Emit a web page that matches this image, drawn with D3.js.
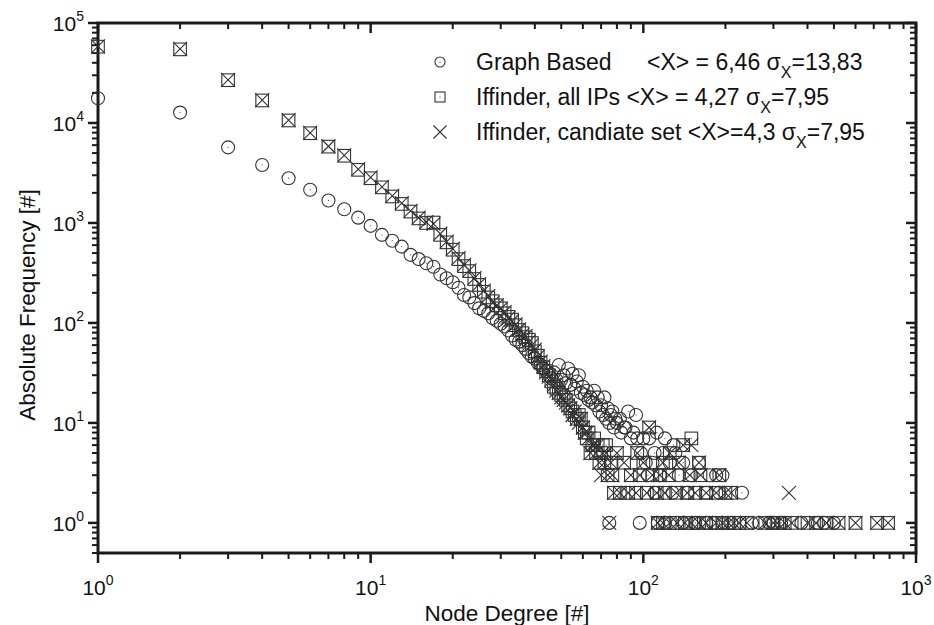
<!DOCTYPE html>
<html>
<head>
<meta charset="utf-8">
<script src="https://cdn.jsdelivr.net/npm/d3@7"></script>
<style>
  html, body { margin: 0; padding: 0; background: #fff; }
  svg { display: block; font-family: "Liberation Sans", Arial, sans-serif; }
</style>
</head>
<body>
<svg id="chart" width="934" height="625"></svg>
<script>
// ---------------- DATA ----------------
const xTickValues = [1, 10, 100, 1000];
const yTickValues = [1, 10, 100, 1000, 10000, 100000];
const xTitle = "Node Degree [#]";
const yTitle = "Absolute Frequency [#]";

// Graph Based (circles)
const graphDeg = [1,2,3,4,5,6,7,8,9,10,11,12,13,14,15,16,17,18,19,20,
  21,22,23,24,25,26,27,28,29,30,31,32,33,34,35,36,37,38,39,40,
  41,42,43,44,45,46,47,48,49,50,51,52,53,54,55,56,57,58,59,60,
  61,62,63,64,65,66,67,68,69,70,71,72,73,74,75,76,77,78,79,80,
  82,83,85,86,88,90,92,94,95,
  100,105,112,120,129,98,110,118,131,102,108,125,140,160,
  104,115,135,150,175,185,195,110,128,145,170,190,230,
  75,97,113,120,140,155,170,180,195,210,250,266,290,300,320,380,437,460,500];
const graphFreq = [17700,12700,5700,3800,2800,2150,1680,1370,1130,935,760,665,580,480,435,395,365,305,280,255,
  225,190,180,158,140,132,125,112,105,98,92,84,75,68,65,60,55,50,46,44,
  40,38,35,33,30,28,32,27,38,27,30,25,35,24,31,22,26,30,20,23,
  19,21,17,18,16,21,15,18,13,15,12,18,11,14,10,12,13,9,11,10,
  11,8,9,9,13,7,8,12,7,
  7,7,8,7,6,5,5,5,5,4,4,4,4,4,
  3,3,3,3,3,3,3,2,2,2,2,2,2,
  1,1,1,1,1,1,1,1,1,1,1,1,1,1,1,1,1,1,1];

// Iffinder, all IPs (squares)
const allDeg = [1,2,3,4,5,6,7,8,9,10,11,12,13,14,15,16,17,18,19,20,
  21,22,23,24,25,26,27,28,29,30,31,32,33,34,35,36,37,38,39,40,
  41,42,43,44,45,46,47,48,49,50,51,52,53,54,55,56,57,58,59,60,
  61,62,63,64,65,66,67,68,69,70,71,72,73,74,76,77,
  105,150,140,80,95,125,85,100,118,135,160,
  90,97,108,115,124,148,162,190,
  78,82,88,94,103,112,120,132,145,155,170,185,200,210,
  113,118,125,133,142,150,160,170,185,195,205,215,225,240,280,300,310,330,350,400,430,470,520,600,720,790];
const allFreq = [58000,54500,26800,16800,10600,7900,5800,4700,3400,2800,2270,1840,1550,1300,1110,1000,1010,760,640,540,
  435,370,330,275,240,205,180,165,150,140,125,115,108,95,85,79,72,68,63,52,
  47,40,36,33,30,26,23,22,20,19,18,17,15,14,13,12,11,12,11,9,
  8,7,8,5,6,7,5,6,4,5,6,4,6,3,4,3,
  9,7,6,5,5,5,4,4,4,4,4,
  3,3,3,3,3,3,3,3,
  2,2,2,2,2,2,2,2,2,2,2,2,2,2,
  1,1,1,1,1,1,1,1,1,1,1,1,1,1,1,1,1,1,1,1,1,1,1,1,1,1];

// Iffinder, candidate set (crosses)
const candDeg = [1,2,3,4,5,6,7,8,9,10,11,12,13,14,15,16,17,18,19,20,
  21,22,23,24,25,26,27,28,29,30,31,32,33,34,35,36,37,38,39,40,
  41,42,43,44,45,46,47,48,49,50,51,52,53,54,55,56,57,58,59,60,
  61,62,63,64,65,66,67,68,69,70,71,72,73,74,75,76,77,
  105,150,140,80,95,125,85,100,118,135,160,
  90,97,108,115,124,148,162,190,
  78,82,88,94,103,112,120,132,145,155,170,185,200,210,342,
  113,118,125,133,142,150,160,170,185,195,205,215,225,240,280,300,310,330,350,400,430,470,520,600,720,790];
const candFreq = [58500,55000,27000,16900,10700,7950,5850,4750,3450,2850,2300,1870,1580,1320,1130,1020,980,780,650,550,
  445,380,335,280,245,210,185,160,150,138,128,112,104,97,86,76,74,65,60,54,
  46,41,37,32,29,27,24,21,20,18,17,16,15,14,12,13,11,10,11,9,
  8,8,7,5,6,6,5,6,4,3,5,4,5,3,1,4,3,
  9,6,6,5,5,5,4,4,4,4,4,
  3,3,3,3,3,3,3,3,
  2,2,2,2,2,2,2,2,2,2,2,2,2,2,2,
  1,1,1,1,1,1,1,1,1,1,1,1,1,1,1,1,1,1,1,1,1,1,1,1,1,1];

const legendNames = ["Graph Based", "Iffinder, all IPs <X> = 4,27 ", "Iffinder, candiate set <X>=4,3 "];
const legendMeanGraph = "<X> = 6,46 ";
const legendSd = ["=13,83", "=7,95", "=7,95"];

// ---------------- LAYOUT ----------------
const W = 934, H = 625;
const m = {left: 98, right: 18, top: 23, bottom: 72};
const svg = d3.select("#chart");
const x = d3.scaleLog().domain([1, 1000]).range([m.left, W - m.right]);
const y = d3.scaleLog().domain([0.5, 100000]).range([H - m.bottom, m.top]);

const ink = "#1a1a1a";
const mk = "#333";

function minorTicks(domain) {
  const out = [];
  const lo = Math.floor(Math.log10(domain[0])), hi = Math.ceil(Math.log10(domain[1]));
  for (let e = lo; e <= hi; e++) {
    for (let k = 2; k <= 9; k++) {
      const v = k * Math.pow(10, e);
      if (v >= domain[0] && v <= domain[1]) out.push(v);
    }
  }
  return out;
}
const xMinor = minorTicks(x.domain());
const yMinor = minorTicks(y.domain());

const axes = svg.append("g");
const majLen = 10, minLen = 6;
[H - m.bottom, m.top].forEach(yy => {
  axes.selectAll(null).data(xTickValues).enter().append("line")
    .attr("x1", d => x(d)).attr("x2", d => x(d))
    .attr("y1", yy).attr("y2", yy + majLen)
    .attr("stroke", ink).attr("stroke-width", 2.5);
  axes.selectAll(null).data(xMinor).enter().append("line")
    .attr("x1", d => x(d)).attr("x2", d => x(d))
    .attr("y1", yy).attr("y2", yy + minLen)
    .attr("stroke", ink).attr("stroke-width", 2);
});
[m.left, W - m.right].forEach(xx => {
  axes.selectAll(null).data(yTickValues).enter().append("line")
    .attr("y1", d => y(d)).attr("y2", d => y(d))
    .attr("x1", xx).attr("x2", xx - majLen)
    .attr("stroke", ink).attr("stroke-width", 2.5);
  axes.selectAll(null).data(yMinor).enter().append("line")
    .attr("y1", d => y(d)).attr("y2", d => y(d))
    .attr("x1", xx).attr("x2", xx - minLen)
    .attr("stroke", ink).attr("stroke-width", 2);
});
axes.append("rect")
  .attr("x", m.left).attr("y", m.top)
  .attr("width", W - m.left - m.right).attr("height", H - m.top - m.bottom)
  .attr("fill", "none").attr("stroke", ink).attr("stroke-width", 3);

// tick labels
const fs = 21, sfs = 14;
const xl = svg.append("g").attr("font-size", fs).attr("fill", "#111");
xTickValues.forEach(v => {
  const t = xl.append("text").attr("x", x(v)).attr("y", 595).attr("text-anchor", "middle");
  t.append("tspan").text("10");
  t.append("tspan").attr("font-size", sfs).attr("dy", -10).text(Math.round(Math.log10(v)));
});
yTickValues.forEach(v => {
  const t = xl.append("text").attr("x", 84).attr("y", y(v) + 8).attr("text-anchor", "end");
  t.append("tspan").text("10");
  t.append("tspan").attr("font-size", sfs).attr("dy", -10).text(Math.round(Math.log10(v)));
});

// axis titles
svg.append("text").attr("x", (m.left + W - m.right) / 2).attr("y", 621)
  .attr("text-anchor", "middle").attr("font-size", 22.5).attr("fill", "#111").text(xTitle);
svg.append("text").attr("transform", `translate(35,305) rotate(-90)`)
  .attr("text-anchor", "middle").attr("font-size", 22.5).attr("fill", "#111").text(yTitle);

// markers
function drawCircle(g, cx, cy, r) {
  g.append("circle").attr("cx", cx).attr("cy", cy).attr("r", r)
    .attr("fill", "none").attr("stroke", mk).attr("stroke-width", 1.1);
  g.append("rect").attr("x", cx - 0.5).attr("y", cy - 0.5).attr("width", 1).attr("height", 1).attr("fill", "#444");
}
function drawSquare(g, cx, cy, s) {
  g.append("rect").attr("x", cx - s).attr("y", cy - s).attr("width", 2 * s).attr("height", 2 * s)
    .attr("fill", "none").attr("stroke", mk).attr("stroke-width", 1.1);
  g.append("rect").attr("x", cx - 0.5).attr("y", cy - 0.5).attr("width", 1).attr("height", 1).attr("fill", "#444");
}
function drawCross(g, cx, cy, s) {
  g.append("path").attr("d", `M${cx - s},${cy - s}L${cx + s},${cy + s}M${cx - s},${cy + s}L${cx + s},${cy - s}`)
    .attr("stroke", mk).attr("stroke-width", 1.1).attr("fill", "none");
}

const plot = svg.append("g");
const gC = plot.append("g"), gS = plot.append("g"), gX = plot.append("g");
graphDeg.forEach((d, i) => drawCircle(gC, x(d), y(graphFreq[i]), 6.5));
allDeg.forEach((d, i) => drawSquare(gS, x(d), y(allFreq[i]), 6.3));
candDeg.forEach((d, i) => drawCross(gX, x(d), y(candFreq[i]), 7));

// legend
const lfs = 23;
const lg = svg.append("g").attr("font-size", lfs).attr("fill", "#111");
const ly = [62, 97, 132];
drawCircle(lg, 440, ly[0], 5);
drawSquare(lg, 440, ly[1], 5);
drawCross(lg, 440, ly[2], 6.5);
const lx = 476;
lg.append("text").attr("x", lx).attr("y", ly[0] + 8).text(legendNames[0]);
{
  const t = lg.append("text").attr("x", 647).attr("y", ly[0] + 8);
  t.append("tspan").text(legendMeanGraph + "σ");
  t.append("tspan").attr("font-size", 16).attr("dy", 8).text("X");
  t.append("tspan").attr("dy", -8).text(legendSd[0]);
}
[1, 2].forEach(i => {
  const t = lg.append("text").attr("x", lx).attr("y", ly[i] + 8);
  t.append("tspan").text(legendNames[i] + "σ");
  t.append("tspan").attr("font-size", 16).attr("dy", 8).text("X");
  t.append("tspan").attr("dy", -8).text(legendSd[i]);
});
</script>
</body>
</html>
